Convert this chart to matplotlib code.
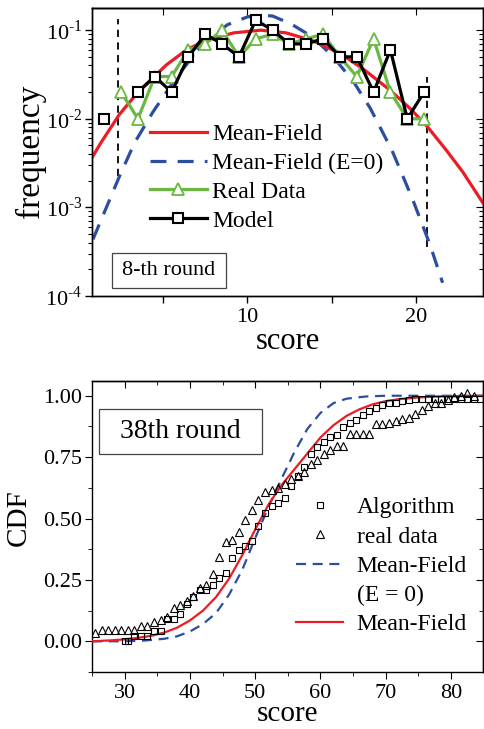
import numpy as np
import matplotlib
matplotlib.use('Agg')
import matplotlib.pyplot as plt
from matplotlib.lines import Line2D
from matplotlib.patches import Rectangle

plt.rcParams['font.family'] = ['Liberation Serif', 'DejaVu Serif']
plt.rcParams['mathtext.fontset'] = 'custom'
plt.rcParams['mathtext.rm'] = 'Liberation Serif'
plt.rcParams['axes.linewidth'] = 1.0

RED = '#ec1c24'
BLUE = '#2c4ea0'
GREEN = '#6ab842'

# ---- 8-th round: frequency of scores (log scale)
mf_x = [0.8, 1.3, 2.4, 3.5, 5.2, 6.4, 7.6, 9.2, 10.8, 12.3, 13.9, 15.5, 16.9, 18.5, 19.7, 20.7, 21.8, 22.8, 24.0]
mf_freq = [0.00372, 0.00537, 0.01122, 0.01995, 0.04074, 0.06026, 0.07762, 0.09333, 0.1, 0.0933,
           0.07586, 0.05495, 0.03631, 0.02089, 0.01288, 0.00813, 0.00447, 0.00251, 0.00112]

mf0_x = [0.83, 2.4, 3.3, 4.4, 5.8, 7.2, 8.8, 10.0, 10.7, 11.5, 12.6, 13.9, 15.1, 16.3, 17.3, 18.6, 19.8, 20.85, 21.6]
mf0_freq = [0.000437, 0.00224, 0.00537, 0.01202, 0.02951, 0.06457, 0.1148, 0.1413, 0.1479, 0.1445,
            0.1175, 0.0832, 0.0501, 0.0263, 0.01318, 0.004365, 0.001259, 0.00038, 0.000141]

score_x = [0.5, 1.5, 2.5, 3.5, 4.5, 5.5, 6.5, 7.5, 8.5, 9.5, 10.5,
           11.5, 12.5, 13.5, 14.5, 15.5, 16.5, 17.5, 18.5, 19.5, 20.5]
real_freq = [0.02, 0, 0.02, 0.01, 0.03, 0.03, 0.06, 0.07, 0.10, 0.05, 0.08,
             0.09, 0.07, 0.08, 0.09, 0.05, 0.03, 0.08, 0.02, 0.01, 0.01]
model_freq = [0, 0.01, 0, 0.02, 0.03, 0.02, 0.05, 0.09, 0.07, 0.05, 0.13,
              0.10, 0.07, 0.07, 0.08, 0.05, 0.05, 0.02, 0.06, 0.01, 0.02]

bound_x = [2.33, 20.66]
bound_lo = [0.00224, 0.00036]
bound_hi = [0.135, 0.0295]

# ---- 38th round: CDF of scores
cdf_real_x = np.arange(25.5, 83.6, 1.0)
cdf_real = [0.032, 0.046, 0.046, 0.046, 0.046, 0.046, 0.046, 0.063, 0.063, 0.077,
            0.086, 0.097, 0.134, 0.147, 0.163, 0.183, 0.217, 0.231, 0.275, 0.345,
            0.404, 0.414, 0.444, 0.495, 0.536, 0.576, 0.609, 0.617, 0.625, 0.64,
            0.66, 0.672, 0.69, 0.72, 0.74, 0.764, 0.78, 0.795, 0.795, 0.845,
            0.845, 0.845, 0.845, 0.885, 0.885, 0.888, 0.896, 0.905, 0.91, 0.926,
            0.943, 0.957, 0.97, 0.972, 0.984, 0.995, 0.997, 1.01, 0.997]

cdf_alg_x = [30.0] + list(np.arange(30.5, 84.6, 1.0))
cdf_alg = [0.0, 0.0, 0.023, 0.023, 0.023, 0.042, 0.042, 0.09, 0.09, 0.11, 0.151,
           0.18, 0.208, 0.208, 0.231, 0.259, 0.279, 0.34, 0.37, 0.39, 0.41,
           0.471, 0.521, 0.552, 0.563, 0.582, 0.633, 0.673, 0.711, 0.764, 0.791,
           0.812, 0.831, 0.842, 0.872, 0.889, 0.903, 0.923, 0.939, 0.95, 0.964,
           0.97, 0.97, 0.98, 0.984, 0.986, 0.986, 0.986, 0.986, 0.986, 0.986,
           0.986, 0.986, 0.986, 0.986, 0.986]

cdf_mf_x = [25, 28, 30, 32, 34, 36, 38, 40, 42, 44, 46, 48, 50, 52, 54, 56, 58, 60, 62, 64, 66, 68, 70, 72, 75, 78, 85]
cdf_mf = [0.0, 0.004, 0.008, 0.014, 0.022, 0.035, 0.055, 0.085, 0.125, 0.18, 0.255, 0.35, 0.455,
          0.555, 0.635, 0.70, 0.765, 0.83, 0.88, 0.918, 0.945, 0.965, 0.978, 0.986, 0.993, 0.997, 1.0]

cdf_mf0_x = [25, 30, 33, 36, 38, 40, 42, 44, 46, 48, 50, 52, 54, 56, 58, 60, 62, 64, 67, 70, 85]
cdf_mf0 = [0.0, 0.0, 0.003, 0.01, 0.02, 0.04, 0.07, 0.115, 0.19, 0.29, 0.42, 0.545, 0.66,
           0.77, 0.865, 0.93, 0.97, 0.988, 0.997, 1.0, 1.0]

fig = plt.figure(figsize=(4.84, 7.29), dpi=100)

# ================= top panel =================
ax1 = fig.add_axes([92 / 484, 433 / 729, 391 / 484, 288 / 729])
ax1.set_yscale('log', nonpositive='mask')

ax1.plot(mf0_x, mf0_freq, color=BLUE, lw=2.3, dashes=(5, 3.5), zorder=2)
ax1.plot(mf_x, mf_freq, color=RED, lw=2.3, zorder=3)
ax1.plot(score_x, real_freq, color=GREEN, lw=2.3, marker='^', ms=8,
         mfc='white', mec=GREEN, mew=1.3, zorder=4)
ax1.plot(score_x, model_freq, color='black', lw=2.3, marker='s', ms=7.5,
         mfc='white', mec='black', mew=1.5, zorder=5)
for bx, lo, hi in zip(bound_x, bound_lo, bound_hi):
    ax1.plot([bx, bx], [lo, hi], color='black', lw=1.3, dashes=(4, 3), zorder=1)

ax1.set_xlim(0.77, 24.0)
ax1.set_ylim(1e-4, 0.178)
ax1.set_xticks([5, 10, 15, 20])
ax1.set_xticklabels(['', '10', '', '20'])
ax1.set_yticks([1e-4, 1e-3, 1e-2, 1e-1])
ax1.set_yticklabels(['10$^{\\text{-}4}$', '10$^{\\text{-}3}$', '10$^{\\text{-}2}$', '10$^{\\text{-}1}$'])
ax1.tick_params(axis='both', which='major', labelsize=16, length=5, width=1.0)
ax1.tick_params(axis='both', which='minor', length=3, width=0.8)
ax1.tick_params(axis='x', direction='out')
ax1.tick_params(axis='y', which='both', direction='out', pad=2)
ax1.set_xlabel('score', fontsize=22, labelpad=0)
ax1.set_ylabel('frequency', fontsize=24)
ax1.yaxis.set_label_coords(-0.118, 0.503)

# inward ticks on top/right
sec1 = ax1.secondary_xaxis('top')
sec1.set_xticks([5, 10, 15, 20])
sec1.set_xticklabels([])
sec1.tick_params(direction='in', length=5)
sec1y = ax1.twinx()
sec1y.set_yscale('log')
sec1y.set_ylim(ax1.get_ylim())
sec1y.set_yticks([1e-4, 1e-3, 1e-2, 1e-1])
sec1y.set_yticklabels([])
sec1y.tick_params(axis='y', which='both', direction='in')
sec1y.tick_params(axis='y', which='major', length=5)
sec1y.tick_params(axis='y', which='minor', length=3, width=0.8)
sec1y.yaxis.set_minor_formatter(plt.NullFormatter())

handles1 = [
    Line2D([], [], color=RED, lw=2.3),
    Line2D([], [], color=BLUE, lw=2.3, dashes=(5, 3.5)),
    Line2D([], [], color=GREEN, lw=2.3, marker='^', ms=8, mfc='white', mec=GREEN, mew=1.3),
    Line2D([], [], color='black', lw=2.3, marker='s', ms=7.5, mfc='white', mec='black', mew=1.5),
]
labels1 = ['Mean-Field', 'Mean-Field (E=0)', 'Real Data', 'Model']
ax1.legend(handles1, labels1, loc='upper left', bbox_to_anchor=(0.148, 0.599),
           frameon=False, fontsize=17, handlelength=2.4, handletextpad=0.25,
           labelspacing=0.31, borderpad=0, borderaxespad=0)

ax1.add_patch(Rectangle((0.051, 0.0278), 0.2916, 0.1215, transform=ax1.transAxes,
                        fc='white', ec='#444444', lw=0.9, zorder=6))
ax1.text(0.197, 0.0885, '8-th round', transform=ax1.transAxes, fontsize=16,
         ha='center', va='center', zorder=7)

# ================= bottom panel =================
ax2 = fig.add_axes([92 / 484, 57 / 729, 391 / 484, 291 / 729])

ax2.plot(cdf_mf0_x, cdf_mf0, color=BLUE, lw=1.6, dashes=(4.5, 3), zorder=2)
ax2.plot(cdf_mf_x, cdf_mf, color=RED, lw=1.6, zorder=3)
ax2.plot(cdf_alg_x, cdf_alg, ls='none', marker='s', ms=4.5, mfc='none', mec='black', mew=0.8, zorder=4)
ax2.plot(cdf_real_x, cdf_real, ls='none', marker='^', ms=6, mfc='none', mec='black', mew=0.8, zorder=4)

ax2.set_xlim(25, 84.9)
ax2.set_ylim(-0.117, 1.06)
ax2.set_xticks([30, 40, 50, 60, 70, 80])
ax2.set_xticks(np.arange(25, 85, 5), minor=True)
ax2.set_yticks([0, 0.25, 0.5, 0.75, 1.0])
ax2.set_yticklabels(['0.00', '0.25', '0.50', '0.75', '1.00'])
ax2.set_yticks(np.arange(-0.125, 1.06, 0.125), minor=True)
ax2.tick_params(axis='both', which='major', labelsize=16, length=5, direction='out')
ax2.tick_params(axis='both', which='minor', length=3, direction='out')
ax2.tick_params(axis='y', which='both', pad=2)
ax2.set_xlabel('score', fontsize=21, labelpad=-1.5)
ax2.set_ylabel('CDF', fontsize=21)
ax2.yaxis.set_label_coords(-0.153, 0.53)

sec2 = ax2.secondary_xaxis('top')
sec2.set_xticks([30, 40, 50, 60, 70, 80])
sec2.set_xticks(np.arange(25, 85, 5), minor=True)
sec2.set_xticklabels([])
sec2.tick_params(which='major', direction='in', length=5)
sec2.tick_params(which='minor', direction='in', length=3)
sec2y = ax2.secondary_yaxis('right')
sec2y.set_yticks([0, 0.25, 0.5, 0.75, 1.0])
sec2y.set_yticks(np.arange(-0.125, 1.06, 0.125), minor=True)
sec2y.set_yticklabels([])
sec2y.tick_params(which='major', direction='in', length=5)
sec2y.tick_params(which='minor', direction='in', length=3)

handles2 = [
    Line2D([], [], ls='none', marker='s', ms=4.5, mfc='none', mec='black', mew=0.8),
    Line2D([], [], ls='none', marker='^', ms=6, mfc='none', mec='black', mew=0.8),
    Line2D([], [], color=BLUE, lw=1.6, dashes=(4.5, 3)),
    Line2D([], [], ls='none'),
    Line2D([], [], color=RED, lw=1.6),
]
labels2 = ['Algorithm', 'real data', 'Mean-Field', '(E = 0)', 'Mean-Field']
ax2.legend(handles2, labels2, loc='upper left', bbox_to_anchor=(0.523, 0.6025),
           frameon=False, fontsize=17, handlelength=1.95, handletextpad=0.6,
           labelspacing=0.33, borderpad=0, borderaxespad=0)

ax2.add_patch(Rectangle((0.0179, 0.749), 0.417, 0.1546, transform=ax2.transAxes,
                        fc='white', ec='#444444', lw=0.9, zorder=6))
ax2.text(0.226, 0.826, '38th round', transform=ax2.transAxes, fontsize=20,
         ha='center', va='center', zorder=7)

fig.savefig('out.png', dpi=100)
